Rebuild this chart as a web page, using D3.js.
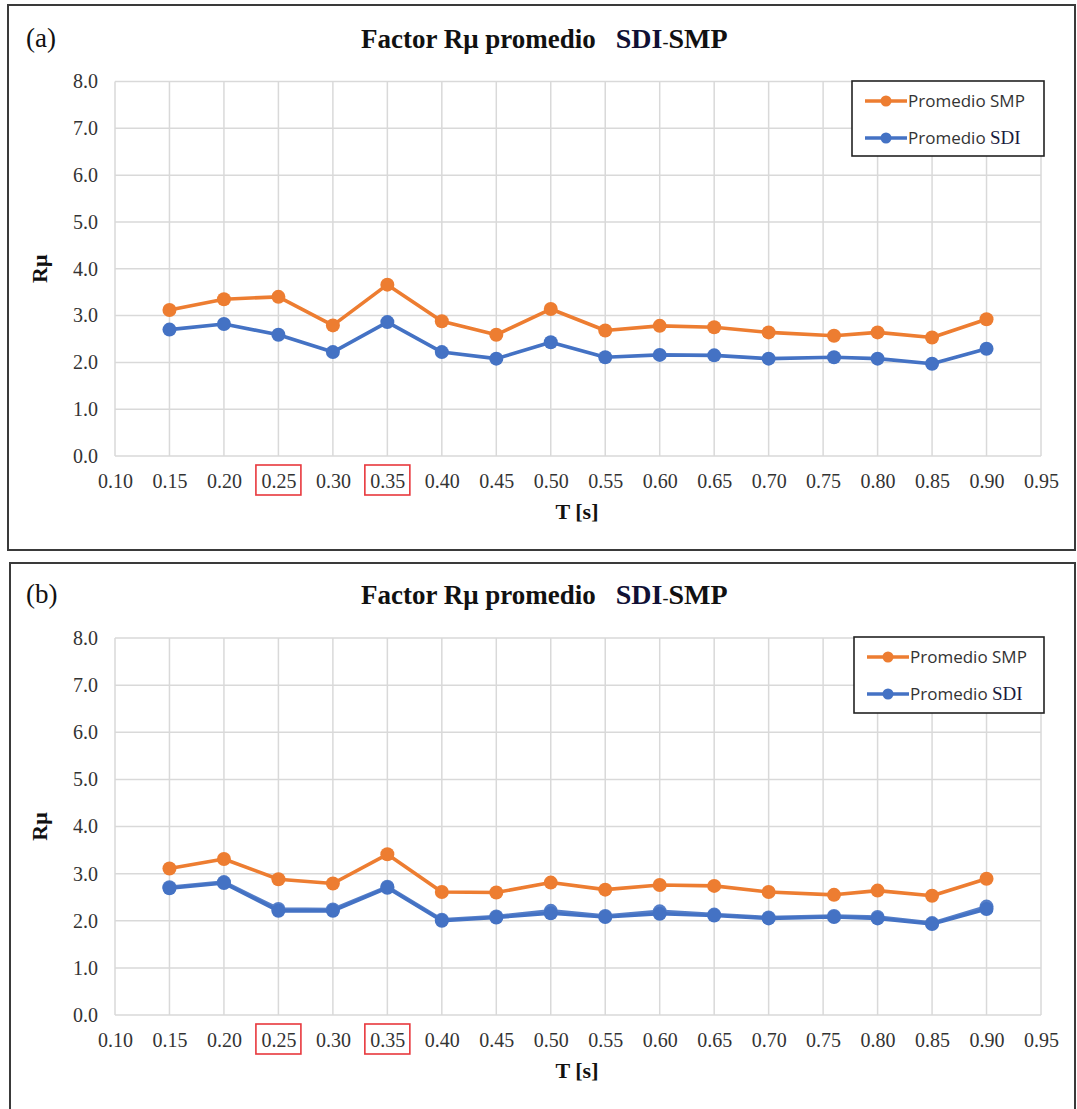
<!DOCTYPE html>
<html>
<head>
<meta charset="utf-8">
<script src="https://cdn.jsdelivr.net/npm/d3@7"></script>
<style>
  html, body { margin: 0; padding: 0; background: #fff; }
  svg { display: block; }
</style>
</head>
<body>
<svg id="chart" width="1077" height="1109"></svg>
<script>
// Structural period T [s] of each analysed case
const periods = [0.15, 0.20, 0.25, 0.30, 0.35, 0.40, 0.45, 0.50, 0.55, 0.60, 0.65, 0.70, 0.76, 0.80, 0.85, 0.90];

// Panel (a): average Rμ factor
const smpA = [3.12, 3.35, 3.40, 2.79, 3.66, 2.88, 2.59, 3.14, 2.68, 2.78, 2.75, 2.64, 2.57, 2.64, 2.53, 2.92];
const sdiA = [2.70, 2.82, 2.59, 2.22, 2.86, 2.22, 2.08, 2.43, 2.11, 2.16, 2.15, 2.08, 2.11, 2.08, 1.97, 2.29];

// Panel (b): average Rμ factor (SDI drawn twice, two nearly coincident runs)
const smpB  = [3.11, 3.31, 2.88, 2.79, 3.41, 2.61, 2.60, 2.81, 2.66, 2.76, 2.74, 2.61, 2.55, 2.64, 2.53, 2.89];
const sdiB  = [2.69, 2.80, 2.21, 2.21, 2.70, 2.00, 2.07, 2.16, 2.08, 2.15, 2.11, 2.05, 2.08, 2.05, 1.93, 2.25];
const sdiB2 = [2.71, 2.82, 2.25, 2.24, 2.72, 2.02, 2.09, 2.21, 2.10, 2.20, 2.13, 2.07, 2.10, 2.08, 1.95, 2.30];

// Axis ticks
const xTicks = [0.10, 0.15, 0.20, 0.25, 0.30, 0.35, 0.40, 0.45, 0.50, 0.55, 0.60, 0.65, 0.70, 0.75, 0.80, 0.85, 0.90, 0.95];
const yTicks = [0, 1, 2, 3, 4, 5, 6, 7, 8];
const highlightedTicks = [0.25, 0.35];

const ORANGE = "#ED7D31";
const BLUE = "#4472C4";
const GRID = "#d9d9d9";
const SERIF = "'Liberation Serif', 'DejaVu Serif', serif";
const SANS = "'Open Sans', 'Liberation Sans', sans-serif";

const svg = d3.select("#chart");

function drawPanel(cfg) {
  const g = svg.append("g");

  // panel frame
  g.append("rect")
    .attr("x", cfg.frame[0]).attr("y", cfg.frame[1])
    .attr("width", cfg.frame[2]).attr("height", cfg.frame[3])
    .attr("fill", "none").attr("stroke", "#3a3a3a").attr("stroke-width", 2);

  g.append("text")
    .attr("x", 26).attr("y", cfg.top - 35)
    .attr("font-family", SERIF).attr("font-size", 27).attr("fill", "#111")
    .text(cfg.tag);

  const x = d3.scaleLinear().domain([0.10, 0.95]).range([115, 1041]);
  const y = d3.scaleLinear().domain([0, 8]).range([cfg.bottom, cfg.top]);

  // title
  const title = g.append("text")
    .attr("x", 361).attr("y", cfg.top - 34)
    .attr("font-family", SERIF).attr("font-size", 27).attr("font-weight", "bold").attr("fill", "#111");
  title.append("tspan").text("Factor Rμ promedio");
  title.append("tspan").attr("dx", 20).attr("font-size", 28).attr("fill", "#101035").text("SDI");
  title.append("tspan").attr("font-weight", "normal").attr("font-size", 18).text("-");
  title.append("tspan").attr("font-size", 28).text("SMP");

  // gridlines
  const grid = g.append("g");
  grid.selectAll("line.h").data(yTicks).join("line")
    .attr("x1", x(0.10)).attr("x2", x(0.95))
    .attr("y1", d => y(d)).attr("y2", d => y(d))
    .attr("stroke", GRID).attr("stroke-width", 1.5);
  grid.selectAll("line.v").data(xTicks).join("line")
    .attr("x1", d => x(d)).attr("x2", d => x(d))
    .attr("y1", y(0)).attr("y2", y(8))
    .attr("stroke", GRID).attr("stroke-width", 1.5);

  // y axis
  const yAxis = d3.axisLeft(y).tickValues(yTicks).tickFormat(d3.format(".1f")).tickSize(0).tickPadding(17);
  const ya = g.append("g").attr("transform", `translate(${x(0.10)},0)`).call(yAxis);
  ya.select(".domain").remove();
  ya.selectAll("text").attr("font-family", SERIF).attr("font-size", 20).attr("fill", "#333");

  // x axis
  const xAxis = d3.axisBottom(x).tickValues(xTicks).tickFormat(d3.format(".2f")).tickSize(0).tickPadding(18);
  const xa = g.append("g").attr("transform", `translate(0,${y(0)})`).call(xAxis);
  xa.select(".domain").remove();
  xa.selectAll("text").attr("font-family", SERIF).attr("font-size", 20).attr("fill", "#333");

  // highlight boxes on selected periods
  g.selectAll("rect.hl").data(highlightedTicks).join("rect")
    .attr("x", d => x(d) - 22.5).attr("y", y(0) + 9)
    .attr("width", 45).attr("height", 30)
    .attr("fill", "none").attr("stroke", "#e8383d").attr("stroke-width", 1.6);

  // axis titles
  g.append("text")
    .attr("transform", `translate(47,${(y(0) + y(8)) / 2}) rotate(-90)`)
    .attr("text-anchor", "middle")
    .attr("font-family", SERIF).attr("font-size", 22).attr("font-weight", "bold").attr("fill", "#111")
    .text("Rμ");
  g.append("text")
    .attr("x", 577).attr("y", y(0) + 63)
    .attr("text-anchor", "middle")
    .attr("font-family", SERIF).attr("font-size", 22).attr("font-weight", "bold").attr("fill", "#111")
    .text("T [s]");

  // series
  const line = d3.line().x(d => x(d[0])).y(d => y(d[1]));
  cfg.series.forEach(s => {
    const pts = periods.map((p, i) => [p, s.values[i]]);
    const sg = g.append("g").attr("opacity", s.opacity || 1);
    sg.append("path").datum(pts)
      .attr("d", line).attr("fill", "none")
      .attr("stroke", s.color).attr("stroke-width", 3.6).attr("stroke-linejoin", "round");
    sg.selectAll("circle").data(pts).join("circle")
      .attr("cx", d => x(d[0])).attr("cy", d => y(d[1])).attr("r", 7)
      .attr("fill", s.color);
  });

  // legend
  const [lx, ly, lw, lh] = cfg.legend;
  const lg = g.append("g");
  lg.append("rect").attr("x", lx).attr("y", ly).attr("width", lw).attr("height", lh)
    .attr("fill", "#fff").attr("stroke", "#222").attr("stroke-width", 1.6);
  const entries = [{ c: ORANGE, name: "SMP", serif: false }, { c: BLUE, name: "SDI", serif: true }];
  entries.forEach((e, i) => {
    const cy = ly + 20 + i * 37;
    lg.append("line").attr("x1", lx + 13).attr("x2", lx + 55).attr("y1", cy).attr("y2", cy)
      .attr("stroke", e.c).attr("stroke-width", 3.6);
    lg.append("circle").attr("cx", lx + 34).attr("cy", cy).attr("r", 5.5).attr("fill", e.c);
    const t = lg.append("text").attr("x", lx + 56).attr("y", cy + 6)
      .attr("font-family", SANS).attr("font-size", 17).attr("fill", "#333");
    t.append("tspan").text("Promedio ");
    t.append("tspan").attr("font-family", e.serif ? SERIF : SANS)
      .attr("font-size", e.serif ? 19 : 17).attr("fill", e.serif ? "#1a1a40" : "#333").text(e.name);
  });
}

drawPanel({
  tag: "(a)",
  frame: [8, 5, 1067, 545],
  top: 81.5, bottom: 456,
  legend: [852, 81, 192, 75],
  series: [{ values: smpA, color: ORANGE }, { values: sdiA, color: BLUE }]
});

drawPanel({
  tag: "(b)",
  frame: [10, 563, 1065, 560],
  top: 638, bottom: 1015,
  legend: [854, 637, 190, 76],
  series: [
    { values: smpB, color: ORANGE },
    { values: sdiB2, color: BLUE, opacity: 0.9 },
    { values: sdiB, color: BLUE }
  ]
});
</script>
</body>
</html>
